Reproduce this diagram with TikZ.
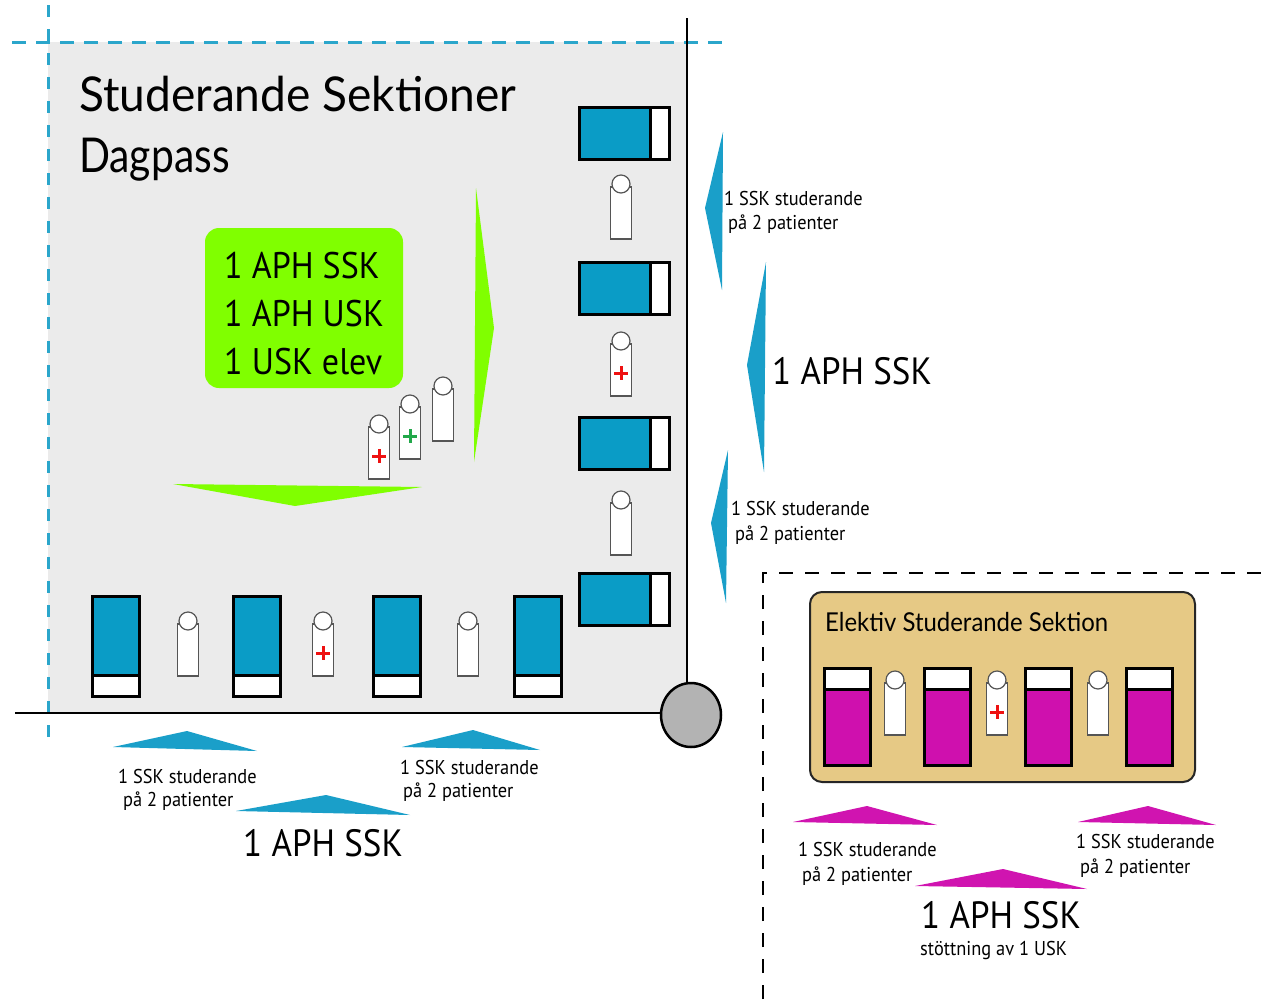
\documentclass[tikz,border=0pt]{standalone}
\usepackage{fontspec}
\setmainfont{PT Sans}[FakeStretch=0.92]
\newfontfamily\titlefont{Lato}[FakeStretch=0.96]
\newfontfamily\dagfont{Lato}[FakeStretch=0.85]
\newfontfamily\elekfont{Lato}[FakeStretch=0.92]
\definecolor{bg}{HTML}{EBEBEB}
\definecolor{tblue}{HTML}{1A9FC9}
\definecolor{bedblue}{HTML}{0A9CC6}
\definecolor{dblue}{HTML}{2BA6CB}
\definecolor{lime}{HTML}{80FF00}
\definecolor{mag}{HTML}{D014B0}
\definecolor{bedmag}{HTML}{CF10AE}
\definecolor{tanbox}{HTML}{E6C985}
\definecolor{pgray}{HTML}{555555}
\definecolor{cgray}{HTML}{B3B3B3}
\definecolor{pgreen}{HTML}{22A84A}
\definecolor{pred}{HTML}{EE1111}
\begin{document}
\begin{tikzpicture}[x=1pt,y=-1pt,
  lbl/.style={anchor=base west, inner sep=0pt, font=\fontsize{20}{24}\selectfont},
  big/.style={anchor=base west, inner sep=0pt, font=\fontsize{38}{46}\selectfont},
  greentxt/.style={anchor=base west, inner sep=0pt, font=\fontsize{37}{44}\selectfont},
  vbed/.pic={
    \filldraw[draw=black,line width=3pt,fill=bedblue] (1.5,1.5) rectangle (48.5,101.5);
    \filldraw[draw=black,line width=3pt,fill=white] (1.5,80) rectangle (48.5,101.5);
  },
  hbed/.pic={
    \filldraw[draw=black,line width=3pt,fill=bedblue] (1.5,1.5) rectangle (91.5,53.5);
    \filldraw[draw=black,line width=3pt,fill=white] (72,1.5) rectangle (91.5,53.5);
  },
  ebed/.pic={
    \filldraw[draw=black,line width=3pt,fill=bedmag] (1.5,1.5) rectangle (47.5,98.5);
    \filldraw[draw=black,line width=3pt,fill=white] (1.5,1.5) rectangle (47.5,22);
  },
  person/.pic={
    \draw[pgray,line width=1.2pt,fill=white] (-10.5,3) rectangle (10.5,55);
    \draw[pgray,line width=1.2pt,fill=white] (0,0) circle[radius=9pt];
  },
  pluscross/.pic={
    \draw[line width=3pt,#1] (-7,32) -- (7,32) (0,25) -- (0,39);
  }
]
\useasboundingbox (0,0) rectangle (1272,999);
\fill[white] (0,0) rectangle (1272,999);

% main area
\fill[bg] (48,42) rectangle (687,713);
\draw[dblue,line width=3pt,dash pattern=on 14pt off 10pt] (12,42) -- (725,42);
\draw[dblue,line width=3pt,dash pattern=on 12pt off 12pt] (48,5) -- (48,745);
\draw[black,line width=2.5pt] (687,18) -- (687,713);
\draw[black,line width=2.5pt] (15,713) -- (687,713);
\filldraw[fill=cgray,draw=black,line width=2.5pt] (691,715) ellipse[x radius=30pt,y radius=32pt];

% titles
\node[anchor=base west,inner sep=0pt,font=\titlefont\fontsize{48}{56}\selectfont] (title) at (79,111) {Studerande Sektioner};
\node[anchor=base west,inner sep=0pt,font=\dagfont\fontsize{48}{56}\selectfont] (dagpass) at (79,172) {Dagpass};

% green box
\fill[lime,rounded corners=14pt] (205,228) rectangle (403,388);
\node[greentxt] (g1) at (224,278) {1 APH SSK};
\node[greentxt] (g2) at (224,326) {1 APH USK};
\node[greentxt] (g3) at (224,374) {1 USK elev};
\fill[lime] (476,188) -- (494,328) -- (474,462) -- cycle;
\fill[lime] (173,484) -- (422,487) -- (295,506) -- cycle;

% right column beds and people
\pic at (578,106) {hbed};
\pic at (578,261) {hbed};
\pic at (578,416) {hbed};
\pic at (578,572) {hbed};
\pic at (621,184) {person};
\pic at (621,341) {person};
\pic at (621,341) {pluscross=pred};
\pic at (621,500) {person};

% bottom row
\pic at (91,595) {vbed};
\pic at (232,595) {vbed};
\pic at (372,595) {vbed};
\pic at (513,595) {vbed};
\pic at (188,621) {person};
\pic at (323,621) {person};
\pic at (323,621) {pluscross=pred};
\pic at (468,621) {person};

% group
\pic at (443,386) {person};
\pic at (410,404) {person};
\pic at (410,404) {pluscross=pgreen};
\pic at (379,424) {person};
\pic at (379,424) {pluscross=pred};

% blue triangles right
\fill[tblue] (723,132) -- (705,208) -- (722,290) -- cycle;
\fill[tblue] (766,262) -- (747,365) -- (764,472) -- cycle;
\fill[tblue] (728,450) -- (711,523) -- (726,603) -- cycle;
\node[lbl] (r1a) at (724,205) {1 SSK studerande};
\node[lbl] (r1b) at (728,229) {på 2 patienter};
\node[big] (r2) at (772,384) {1 APH SSK};
\node[lbl] (r3a) at (731,515) {1 SSK studerande};
\node[lbl] (r3b) at (735,540) {på 2 patienter};

% blue triangles bottom
\fill[tblue] (113,747) -- (187,731) -- (257,751) -- cycle;
\fill[tblue] (402,747) -- (473,730) -- (540,750) -- cycle;
\fill[tblue] (236,811) -- (326,795) -- (410,815) -- cycle;
\node[lbl] (b1a) at (118,783) {1 SSK studerande};
\node[lbl] (b1b) at (123,806) {på 2 patienter};
\node[lbl] (b2a) at (400,774) {1 SSK studerande};
\node[lbl] (b2b) at (403,797) {på 2 patienter};
\node[big] (b3) at (243,856) {1 APH SSK};

% elective section
\draw[black,line width=2pt,dash pattern=on 14pt off 12pt] (763,999) -- (763,573) -- (1272,573);
\filldraw[fill=tanbox,draw=black!85,line width=2pt,rounded corners=12pt] (810,592) rectangle (1195,782);
\node[anchor=base west,inner sep=0pt,font=\elekfont\fontsize{26}{30}\selectfont] (etitle) at (825,631) {Elektiv Studerande Sektion};
\pic at (823,667) {ebed};
\pic at (923,667) {ebed};
\pic at (1024,667) {ebed};
\pic at (1125,667) {ebed};
\pic at (895,680) {person};
\pic at (997,680) {person};
\pic at (997,680) {pluscross=pred};
\pic at (1098,680) {person};

\fill[mag] (793,822) -- (867,806) -- (937,825) -- cycle;
\fill[mag] (1078,822) -- (1148,806) -- (1216,825) -- cycle;
\fill[mag] (915,886) -- (1003,869) -- (1087,889) -- cycle;
\node[lbl] (e1a) at (798,856) {1 SSK studerande};
\node[lbl] (e1b) at (802,881) {på 2 patienter};
\node[lbl] (e2a) at (1076,848) {1 SSK studerande};
\node[lbl] (e2b) at (1080,873) {på 2 patienter};
\node[big] (e3) at (921,928) {1 APH SSK};
\node[lbl] (e4) at (920,955) {stöttning av 1 USK};
\end{tikzpicture}
\end{document}
